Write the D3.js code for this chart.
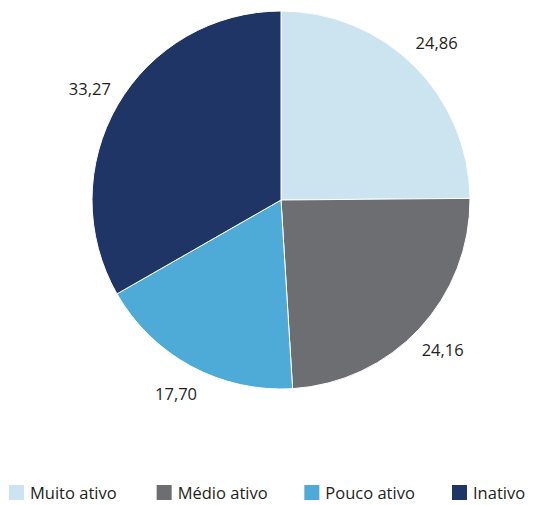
<!DOCTYPE html>
<html>
<head>
<meta charset="utf-8">
<script src="https://cdn.jsdelivr.net/npm/d3@7"></script>
<style>
  html, body { margin: 0; padding: 0; background: #ffffff; }
  svg { display: block; font-family: "Open Sans", "Noto Sans", sans-serif; }
</style>
</head>
<body>
<svg id="chart" width="547" height="505"></svg>
<script>
// Activity levels and their shares (%)
const categories = ["Muito ativo", "Médio ativo", "Pouco ativo", "Inativo"];
const values = [24.86, 24.16, 17.70, 33.27];
const valueLabels = ["24,86", "24,16", "17,70", "33,27"];
const colors = ["#cce4f0", "#6d6e71", "#4eaad7", "#1f3566"];

const svg = d3.select("#chart");
const cx = 281, cy = 200, radius = 189;

const data = categories.map((c, i) => ({ name: c, value: values[i], label: valueLabels[i], color: colors[i] }));

const pie = d3.pie().value(d => d.value).sort(null);
const arc = d3.arc().innerRadius(0).outerRadius(radius);
const labelArc = d3.arc().innerRadius(radius + 32).outerRadius(radius + 32);

const g = svg.append("g").attr("transform", `translate(${cx},${cy})`);
const arcs = pie(data);

g.selectAll("path.slice")
  .data(arcs)
  .join("path")
  .attr("class", "slice")
  .attr("d", arc)
  .attr("fill", d => d.data.color)
  .attr("stroke", "#ffffff")
  .attr("stroke-width", 1);

g.selectAll("text.value")
  .data(arcs)
  .join("text")
  .attr("class", "value")
  .attr("transform", d => `translate(${labelArc.centroid(d)})`)
  .attr("text-anchor", "middle")
  .attr("dy", "0.35em")
  .attr("font-size", 16.5)
  .attr("fill", "#231f20")
  .text(d => d.data.label);

// Legend along the bottom
const legendX = d3.scalePoint().domain(categories).range([9, 452]);
const legend = svg.append("g").attr("transform", "translate(0,485)");
const item = legend.selectAll("g.item")
  .data(data)
  .join("g")
  .attr("class", "item")
  .attr("transform", d => `translate(${legendX(d.name)},0)`);

item.append("rect")
  .attr("width", 15)
  .attr("height", 15)
  .attr("fill", d => d.color);

item.append("text")
  .attr("x", 21)
  .attr("y", 13.5)
  .attr("font-size", 16.5)
  .attr("fill", "#231f20")
  .text(d => d.name);
</script>
</body>
</html>
